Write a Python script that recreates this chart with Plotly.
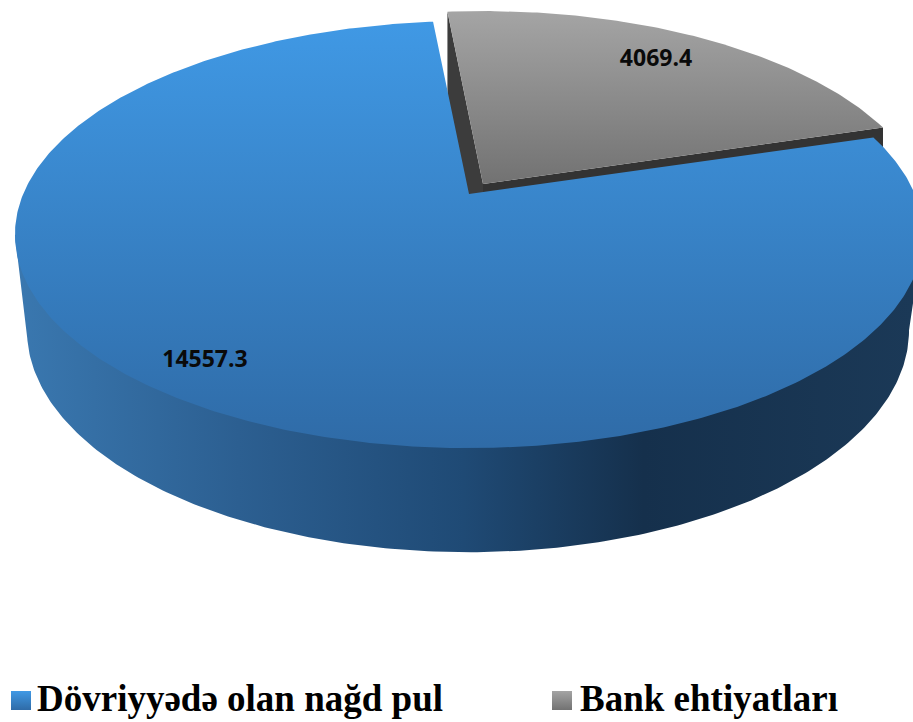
import numpy as np
import plotly.graph_objects as go

categories = ["Dövriyyədə olan nağd pul", "Bank ehtiyatları"]
values = [14557.3, 4069.4]
value_labels = ["14557.3", "4069.4"]

start_angle = 95.5  # degrees, where the gray slice starts going clockwise
persp = 0.19

gray_sweep = values[1] / sum(values) * 360
gray_end = start_angle - gray_sweep


def project(t_deg, cx, cy, bx, ay):
    # circle in the ground plane seen in perspective
    t = np.radians(t_deg)
    d = 1 + persp * np.sin(t)
    return cx + bx * np.cos(t) / d, cy - ay * np.sin(t) / d


def poly(xs, ys, colors, orient, start, stop):
    return go.Scatter(
        x=list(xs), y=list(ys), mode="lines", fill="toself",
        line=dict(width=0),
        fillgradient=dict(
            type=orient, start=start, stop=stop,
            colorscale=[[p, c] for p, c in colors],
        ),
        hoverinfo="skip",
    )


def solid(xs, ys, color):
    return go.Scatter(
        x=list(xs), y=list(ys), mode="lines", fill="toself",
        line=dict(width=0), fillcolor=color, hoverinfo="skip",
    )


top = dict(cx=469, cy=194, bx=445.8, ay=205.8)
bottom = dict(cx=468, cy=288, bx=433, ay=214)
gray_top = dict(cx=483, cy=184, bx=441, ay=205.8)
gray_h = 90

fig = go.Figure()

# gray slice: walls first, then top face
arc_t = np.linspace(start_angle, gray_end, 120)
gx, gy = project(arc_t, **gray_top)
tip_x, tip_y = gray_top["cx"], gray_top["cy"]
fig.add_trace(solid([tip_x, gx[0], gx[0], tip_x], [tip_y, gy[0], gy[0] + gray_h, tip_y + gray_h], "#3c3c3c"))
fig.add_trace(solid([tip_x, gx[-1], gx[-1], tip_x], [tip_y, gy[-1], gy[-1] + gray_h, tip_y + gray_h], "#333333"))
fig.add_trace(poly(
    np.r_[tip_x, gx], np.r_[tip_y, gy],
    [(0, "#a4a4a4"), (1, "#727272")], "vertical", 13, 184,
))

# blue slice: outer wall
wall_t = np.linspace(191, 349, 240)
bx_, by_ = project(wall_t, **bottom)
lx, ly = project(191, **top)
rx, ry = project(349, **top)
fig.add_trace(poly(
    np.r_[lx, bx_, rx], np.r_[ly, by_, ry],
    [(0, "#3a78b0"), (0.25, "#2c5f91"), (0.5, "#1f4a75"), (0.7, "#15304c"), (1, "#1b3957")],
    "horizontal", 14, 913,
))

# blue slice: top face
arc_blue = np.linspace(start_angle, gray_end + 360, 500)
ux, uy = project(arc_blue, **top)
fig.add_trace(poly(
    np.r_[top["cx"], ux], np.r_[top["cy"], uy],
    [(0, "#4099e5"), (1, "#2f6ba7")], "vertical", 20, 447,
))

# value labels
fig.add_trace(go.Scatter(
    x=[205, 656], y=[361, 60], mode="text", text=value_labels,
    textposition="middle center",
    textfont=dict(family="Open Sans", size=23, color="#0a0a0a", weight="bold"),
    hoverinfo="skip",
))

# legend
sq_colors = [[(0, "#4099e5"), (1, "#2f6ba7")], [(0, "#a4a4a4"), (1, "#727272")]]
sq_x = [11, 552]
text_x = [37, 580]
for i, name in enumerate(categories):
    x0 = sq_x[i]
    fig.add_trace(poly(
        [x0, x0 + 20, x0 + 20, x0], [691, 691, 710, 710],
        sq_colors[i], "vertical", 691, 710,
    ))
    fig.add_trace(go.Scatter(
        x=[text_x[i]], y=[702], mode="text", text=[name],
        textposition="middle right",
        textfont=dict(family="Liberation Serif", size=37, color="#000000", weight="bold"),
        hoverinfo="skip",
    ))

fig.update_layout(
    width=913, height=722,
    margin=dict(l=0, r=0, t=0, b=0),
    showlegend=False,
    paper_bgcolor="white", plot_bgcolor="white",
    xaxis=dict(range=[0, 913], visible=False, fixedrange=True),
    yaxis=dict(range=[722, 0], visible=False, fixedrange=True),
)

fig.write_html("out.html", config=dict(displayModeBar=False),
               post_script="document.body.style.margin='0';document.body.style.overflow='hidden';")
